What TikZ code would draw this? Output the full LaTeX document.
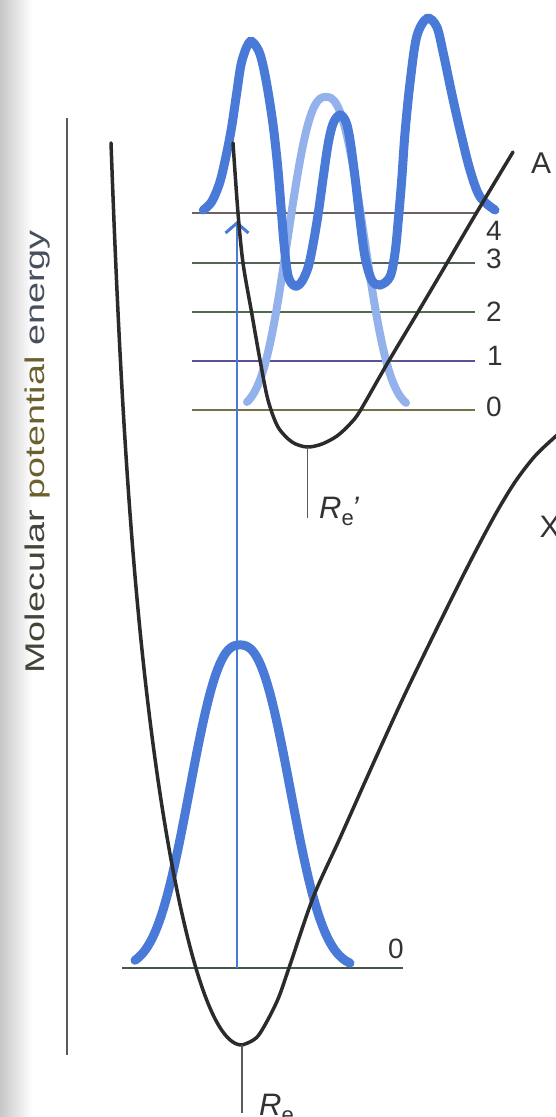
\documentclass[tikz,border=0pt]{standalone}
\usepackage{fontspec}
\setmainfont{Liberation Sans}
\usetikzlibrary{arrows.meta}
\definecolor{wblue}{HTML}{4A7AD8}
\definecolor{lblue}{HTML}{93B2EC}
\definecolor{pesc}{HTML}{2B2B2B}
\definecolor{axc}{HTML}{5A5A5A}
\definecolor{txtA}{HTML}{44443A}
\definecolor{txtB}{HTML}{6A612E}
\definecolor{txtC}{HTML}{46505F}
\begin{document}
\begin{tikzpicture}[x=1pt,y=-1pt,
  pes/.style={pesc, line width=3.5pt, line cap=round, line join=round},
  wave/.style={wblue, line width=9pt, line cap=round},
  lwave/.style={lblue, line width=8pt, line cap=round},
  level/.style={line width=1.8pt},
  tickline/.style={axc, line width=1.6pt},
  trans/.style={wblue, line width=2.2pt},
  lab/.style={font=\fontsize{28}{32}\selectfont, text=black!80, inner sep=0pt},
  rlab/.style={font=\fontsize{31}{34}\selectfont, text=black!80, inner sep=0pt}]
\useasboundingbox (0,0) rectangle (556,1117);
\fill[white] (0,0) rectangle (556,1117);
\shade[left color=black!22, right color=white] (0,0) rectangle (32,1117);

% energy axis
\coordinate (axtop) at (67,118);
\coordinate (axbot) at (67,1055);
\draw[axc, line width=2pt] (axtop) -- (axbot);
\node[rotate=90, inner sep=0pt, font=\fontsize{27}{30}\selectfont] (ylab) at (38,452)
  {\scalebox{1.4}[1]{\textcolor{txtA}{Molecular} \textcolor{txtB}{potential} \textcolor{txtC}{energy}}};

% upper vibrational levels
\draw[level, color={rgb,255:red,110;green,96;blue,100}] (192,213) coordinate (u4l) -- (475,213) coordinate (u4r);
\draw[level, color={rgb,255:red,84;green,100;blue,84}] (192,263) coordinate (u3l) -- (475,263) coordinate (u3r);
\draw[level, color={rgb,255:red,78;green,108;blue,78}] (192,312) coordinate (u2l) -- (475,312) coordinate (u2r);
\draw[level, color={rgb,255:red,86;green,84;blue,150}] (192,361) coordinate (u1l) -- (475,361) coordinate (u1r);
\draw[level, color={rgb,255:red,118;green,112;blue,72}] (192,410) coordinate (u0l) -- (475,410) coordinate (u0r);
\node[lab] (n4) at (494,231) {4};
\node[lab] (n3) at (494,259) {3};
\node[lab] (n2) at (494,312) {2};
\node[lab] (n1) at (495,356) {1};
\node[lab] (n0) at (494,407) {0};

% lower vibrational level
\draw[level, color={rgb,255:red,70;green,86;blue,72}] (122,968) coordinate (l0l) -- (403,968) coordinate (l0r);
\node[lab] (m0) at (396,949) {0};

% transition
\coordinate (vb) at (237,968);
\coordinate (vt) at (237,221);
\draw[trans, -{Straight Barb[length=10pt, width=23pt, line width=3pt]}] (vb) -- (vt);

% wavefunctions
\draw[lwave] plot[domain=247:406, samples=90]
  (\x, {410 - 313*exp(-((abs(\x-326)+0.001)/47)^2.5)});
\draw[wave] plot[smooth, tension=0.55] coordinates {
  (203.3,210) (211.7,201.7) (220,181.7) (226.7,153) (231.7,126.7) (236.7,93)
  (241.7,61.7) (250,41.7) (258.3,50) (263.3,66.7) (268.3,93.3) (273.3,126.7)
  (277.7,166.7) (281,206.7) (284.3,246.7) (288.3,276.7) (295,286) (301.7,281.7)
  (308.3,266.7) (313.3,243) (318.3,213) (323.3,176.7) (328.3,143) (333.3,123)
  (340,115) (346,122) (350,140) (355,177) (360,220) (365,257) (371.7,280)
  (380,285) (390,276.7) (395,253) (398.3,220) (401.7,180) (405,133) (410,83)
  (416.7,36.7) (427,18.5) (436.7,26.7) (443.3,53.3) (451.7,93.3) (460,130)
  (470,170) (480,196.7) (495,210)};
\draw[wave] plot[domain=135:350, samples=100]
  (\x, {968 - 323*exp(-((abs(\x-240)+0.001)/62)^2.5)});

% potential energy curves
\draw[pes] plot[domain=111:242, samples=90]
  (\x, {1045 - ((242-\x)*0.18974)^2*(1 + 0.00064*exp(0.0502*(242-\x)))})
  -- plot[smooth, tension=0.5] coordinates {
  (242,1045) (258,1036) (276.7,1002) (289.3,967) (313.3,897) (340,838)
  (373,764) (405,694) (440,622) (470,562) (495,515) (515,482) (535,456)
  (556,436) (570,424)};
\draw[pes] plot[smooth, tension=0.5] coordinates {
  (233,143) (238,213) (243,263) (251.7,313) (260,360) (268,400) (278,427)
  (292,442) (307,447) (322,444) (337,436) (350,424) (360,411) (387,364)
  (418,312) (447,263) (474,217) (513,152)};
\node[lab, font=\fontsize{30}{32}\selectfont] (labA) at (541,163) {A};
\node[lab, font=\fontsize{31}{34}\selectfont] (labX) at (550,527) {X};

% equilibrium separations
\coordinate (xmin) at (242,1045);
\coordinate (xtick) at (242,1113);
\draw[tickline] (xmin) -- (xtick);
\coordinate (amin) at (307.5,447);
\coordinate (atick) at (307.5,518);
\draw[tickline] (amin) -- (atick);
\node[rlab, anchor=base west] (re) at (259,1115)
  {\textit{R}\raisebox{-7pt}{\fontsize{22}{22}\selectfont e}};
\node[rlab, anchor=base west] (rep) at (319,518)
  {\textit{R}\raisebox{-7pt}{\fontsize{22}{22}\selectfont e}\kern-2pt\textit{'}};
\end{tikzpicture}
\end{document}
